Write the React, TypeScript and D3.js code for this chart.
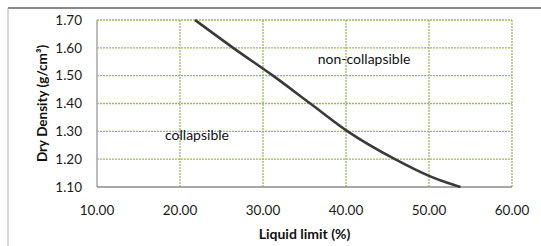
import React from 'react';
import * as d3 from 'd3';

// curve: liquid limit (%) vs dry density (g/cm3)
const liquidLimit = [21.8, 26.4, 31.2, 35.7, 40.2, 45.9, 50.0, 52.2, 53.8];
const dryDensity = [1.7, 1.6, 1.5, 1.4, 1.3, 1.2, 1.14, 1.115, 1.1];

const xTicks = [10, 20, 30, 40, 50, 60];
const yTicks = [1.1, 1.2, 1.3, 1.4, 1.5, 1.6, 1.7];

const labels = [
	{ text: 'collapsible', ll: 18.2, dd: 1.285 },
	{ text: 'non-collapsible', ll: 36.6, dd: 1.56 },
];

const width = 541;
const height = 246;
const margin = { top: 20, right: 29, bottom: 59, left: 97 };
const font = 'Lato, "Liberation Sans", sans-serif';
const grid = '#9bbb59';

const App = () => {
	const x = d3.scaleLinear().domain([10, 60]).range([margin.left, width - margin.right]);
	const y = d3.scaleLinear().domain([1.1, 1.7]).range([height - margin.bottom, margin.top]);
	const pts = liquidLimit.map((d, i) => [d, dryDensity[i]] as [number, number]);
	const line = d3
		.line<[number, number]>()
		.x((d) => x(d[0]))
		.y((d) => y(d[1]))
		.curve(d3.curveMonotoneX);
	const fmt = d3.format('.2f');

	return (
		<svg
			width={width}
			height={height}
			style={{ position: 'absolute', left: 0, top: 0, background: '#fff' }}
			fontFamily={font}
		>
			{/* outer frame */}
			<line x1={8} x2={width} y1={8} y2={8} stroke="#8a8a8a" strokeWidth={2} />
			<line x1={8} x2={8} y1={8} y2={height} stroke="#b0b0b0" strokeWidth={1} />

			{/* grid */}
			{yTicks.slice(1).map((t) => (
				<line key={'gy' + t} x1={x(10)} x2={x(60)} y1={y(t)} y2={y(t)} stroke={grid} strokeWidth={1.3} strokeDasharray="2 1" />
			))}
			{xTicks.slice(1).map((t) => (
				<line key={'gx' + t} x1={x(t)} x2={x(t)} y1={y(1.1)} y2={y(1.7)} stroke={grid} strokeWidth={1.3} strokeDasharray="2 1" />
			))}

			{/* axes */}
			<line x1={x(10)} x2={x(10)} y1={y(1.1)} y2={y(1.7)} stroke="#a6a6a6" strokeWidth={1.5} />
			<line x1={x(10)} x2={x(60)} y1={y(1.1)} y2={y(1.1)} stroke="#8c8c8c" strokeWidth={1.5} />

			{yTicks.map((t) => (
				<text key={'ty' + t} x={82} y={y(t)} dy="0.35em" textAnchor="end" fontSize={13.5} fill="#1a1a1a">
					{fmt(t)}
				</text>
			))}
			{xTicks.map((t) => (
				<text key={'tx' + t} x={x(t)} y={215} textAnchor="middle" fontSize={13.5} fill="#1a1a1a">
					{fmt(t)}
				</text>
			))}

			<text x={(x(10) + x(60)) / 2} y={239} textAnchor="middle" fontSize={14} fontWeight="bold" fill="#111">
				Liquid limit (%)
			</text>
			<text
				transform={`translate(47, ${(y(1.1) + y(1.7)) / 2}) rotate(-90)`}
				textAnchor="middle"
				fontSize={13.5}
				fontWeight="bold"
				fill="#111"
			>
				Dry Density (g/cm³)
			</text>

			{/* curve */}
			<path d={line(pts) || ''} fill="none" stroke="#3a3a3a" strokeWidth={2.6} strokeLinejoin="round" />

			{labels.map((l) => (
				<text key={l.text} x={x(l.ll)} y={y(l.dd)} dy="0.35em" fontSize={14} fill="#111">
					{l.text}
				</text>
			))}
		</svg>
	);
};

export default App;
